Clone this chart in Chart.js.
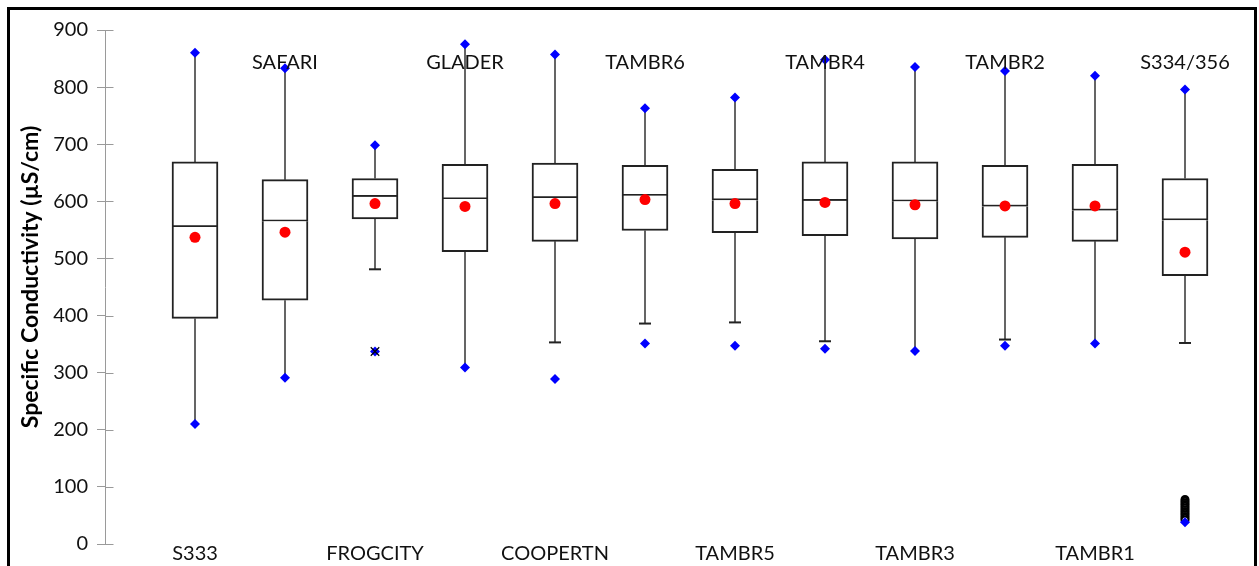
<!DOCTYPE html>
<html>
<head>
<meta charset="utf-8">
<script src="https://cdn.jsdelivr.net/npm/chart.js@4"></script>
<style>
  html, body { margin: 0; padding: 0; background: #fff; overflow: hidden; }
  #wrap { position: relative; width: 1259px; height: 566px; }
  #frame { position: absolute; left: 7px; top: 7px; width: 1250px; height: 620px; border: 3px solid #000; box-sizing: border-box; pointer-events: none; }
  canvas { position: absolute; left: 0; top: 0; }
</style>
</head>
<body>
<div id="wrap">
  <canvas id="c" width="1259" height="566"></canvas>
  <div id="frame"></div>
</div>
<script>
// ---- data ----
const categories = ['S333','SAFARI','FROGCITY','GLADER','COOPERTN','TAMBR6','TAMBR5','TAMBR4','TAMBR3','TAMBR2','TAMBR1','S334/356'];
const q1Values     = [395, 427, 569, 512, 530, 549, 545, 540, 534, 537, 530, 470];
const medianValues = [555, 565, 608, 604, 606, 610, 602, 601, 600, 591, 584, 567];
const q3Values     = [669, 638, 640, 665, 667, 663, 656, 669, 669, 663, 665, 640];
const meanValues   = [537, 546, 596, 591, 596, 603, 596, 598, 594, 592, 592, 511];
const maxValues    = [860, 833, 698, 875, 857, 763, 782, 848, 835, 828, 820, 796];
const lowWhisker   = [210, 291, 481, 309, 353, 386, 388, 355, 338, 358, 351, 352];
const minValues    = [210, 291, 337, 309, 289, 351, 347, 342, 338, 347, 351, 38];
const starOutlierCategory = 'FROGCITY';
const starOutlierValue = 337;
const circleOutlierCategory = 'S334/356';
const circleOutliers = [78, 75, 72, 69, 66, 63, 60, 57, 54, 51, 48, 45, 42];
const yTicks = [0, 100, 200, 300, 400, 500, 600, 700, 800, 900];
const yTitle = 'Specific Conductivity (µS/cm)';

// ---- build library datasets ----
const xs = categories.map((c, i) => i + 1);
const lowerBox = xs.map((x, i) => ({ x, y: [q1Values[i], medianValues[i]] }));
const upperBox = xs.map((x, i) => ({ x, y: [medianValues[i], q3Values[i]] }));
const whiskers = [];
xs.forEach((x, i) => {
  whiskers.push({ x, y: q3Values[i] }, { x, y: maxValues[i] }, { x, y: null });
  whiskers.push({ x, y: q1Values[i] }, { x, y: lowWhisker[i] }, { x, y: null });
});
const caps = xs.map((x, i) => ({ x, y: lowWhisker[i] !== minValues[i] ? lowWhisker[i] : null }));
const maxPts = xs.map((x, i) => ({ x, y: maxValues[i] }));
const minPts = xs.map((x, i) => ({ x, y: minValues[i] }));
const meanPts = xs.map((x, i) => ({ x, y: meanValues[i] }));
const starX = categories.indexOf(starOutlierCategory) + 1;
const circX = categories.indexOf(circleOutlierCategory) + 1;
const circPts = circleOutliers.map(v => ({ x: circX, y: v }));

const FONT = 'Lato, "Open Sans", sans-serif';

const labelPlugin = {
  id: 'catLabels',
  afterDraw(chart) {
    const { ctx, chartArea, scales } = chart;
    ctx.save();
    ctx.font = '20px ' + FONT;
    ctx.fillStyle = '#111';
    ctx.textAlign = 'center';
    ctx.textBaseline = 'middle';
    categories.forEach((c, i) => {
      if (i % 2 === 1) {
        ctx.fillText(c, scales.x.getPixelForValue(i + 1), chartArea.top + 33);
      }
    });
    // y-axis title
    ctx.save();
    ctx.translate(31, (chartArea.top + chartArea.bottom) / 2 - 10);
    ctx.rotate(-Math.PI / 2);
    ctx.font = 'bold 23px ' + FONT;
    ctx.fillStyle = '#000';
    ctx.fillText(yTitle, 0, 0);
    ctx.restore();
    // inner half of y-axis tick marks
    ctx.strokeStyle = '#9a9a9a';
    ctx.lineWidth = 1;
    const x0 = Math.round(scales.y.right) + 0.5;
    yTicks.forEach(v => {
      const y = Math.round(scales.y.getPixelForValue(v)) + 0.5;
      ctx.beginPath();
      ctx.moveTo(x0, y);
      ctx.lineTo(x0 + 8, y);
      ctx.stroke();
    });
    ctx.restore();
  }
};

new Chart(document.getElementById('c'), {
  type: 'bar',
  data: {
    datasets: [
      { type: 'line', data: whiskers, borderColor: '#333', borderWidth: 1.5, pointRadius: 0, spanGaps: false, order: 5 },
      { type: 'bar', data: lowerBox, backgroundColor: '#fff', borderColor: '#222', borderWidth: 2, borderSkipped: 'top', barThickness: 46, grouped: false, order: 4 },
      { type: 'bar', data: upperBox, backgroundColor: '#fff', borderColor: '#222', borderWidth: 2, borderSkipped: false, barThickness: 46, grouped: false, order: 4 },
      { type: 'scatter', data: caps, pointStyle: 'line', pointRadius: 6, borderColor: '#222', borderWidth: 2, order: 3 },
      { type: 'scatter', data: circPts, pointStyle: 'circle', pointRadius: 3.5, backgroundColor: '#fff', borderColor: '#000', borderWidth: 2, order: 2 },
      { type: 'scatter', data: maxPts, pointStyle: 'rectRot', pointRadius: 5, backgroundColor: '#0000ff', borderColor: '#0000ff', borderWidth: 0, order: 1 },
      { type: 'scatter', data: minPts, pointStyle: 'rectRot', pointRadius: 5, backgroundColor: '#0000ff', borderColor: '#0000ff', borderWidth: 0, order: 1 },
      { type: 'scatter', data: [{ x: starX, y: starOutlierValue }], pointStyle: 'crossRot', pointRadius: 6, borderColor: '#000', borderWidth: 1.2, order: 0 },
      { type: 'scatter', data: meanPts, pointStyle: 'circle', pointRadius: 5.5, backgroundColor: '#ff0000', borderColor: '#ff0000', borderWidth: 0, order: 0 }
    ]
  },
  options: {
    responsive: false,
    animation: false,
    layout: { padding: { top: 30, right: 29, bottom: 0, left: 0 } },
    plugins: { legend: { display: false }, tooltip: { enabled: false } },
    scales: {
      x: {
        type: 'linear', min: 0, max: 12.5, offset: false,
        afterFit(s) { s.height = 22; },
        grid: { display: false, drawTicks: false },
        border: { display: false },
        ticks: {
          stepSize: 1, padding: 0, autoSkip: false, maxRotation: 0,
          color: '#111', font: { family: FONT, size: 20, lineHeight: 1 },
          callback(v) { const i = v - 1; return (Number.isInteger(v) && i >= 0 && i < categories.length && i % 2 === 0) ? categories[i] : ''; }
        }
      },
      y: {
        min: 0, max: 900,
        afterFit(s) { s.width = 105; },
        afterBuildTicks(s) { s.ticks = yTicks.map(v => ({ value: v })); },
        grid: { drawOnChartArea: false, tickLength: 8, color: '#9a9a9a' },
        border: { color: '#9a9a9a', width: 1 },
        ticks: { padding: 9, color: '#111', font: { family: FONT, size: 20 } },
        title: { display: false }
      }
    }
  },
  plugins: [labelPlugin]
});
</script>
</body>
</html>
